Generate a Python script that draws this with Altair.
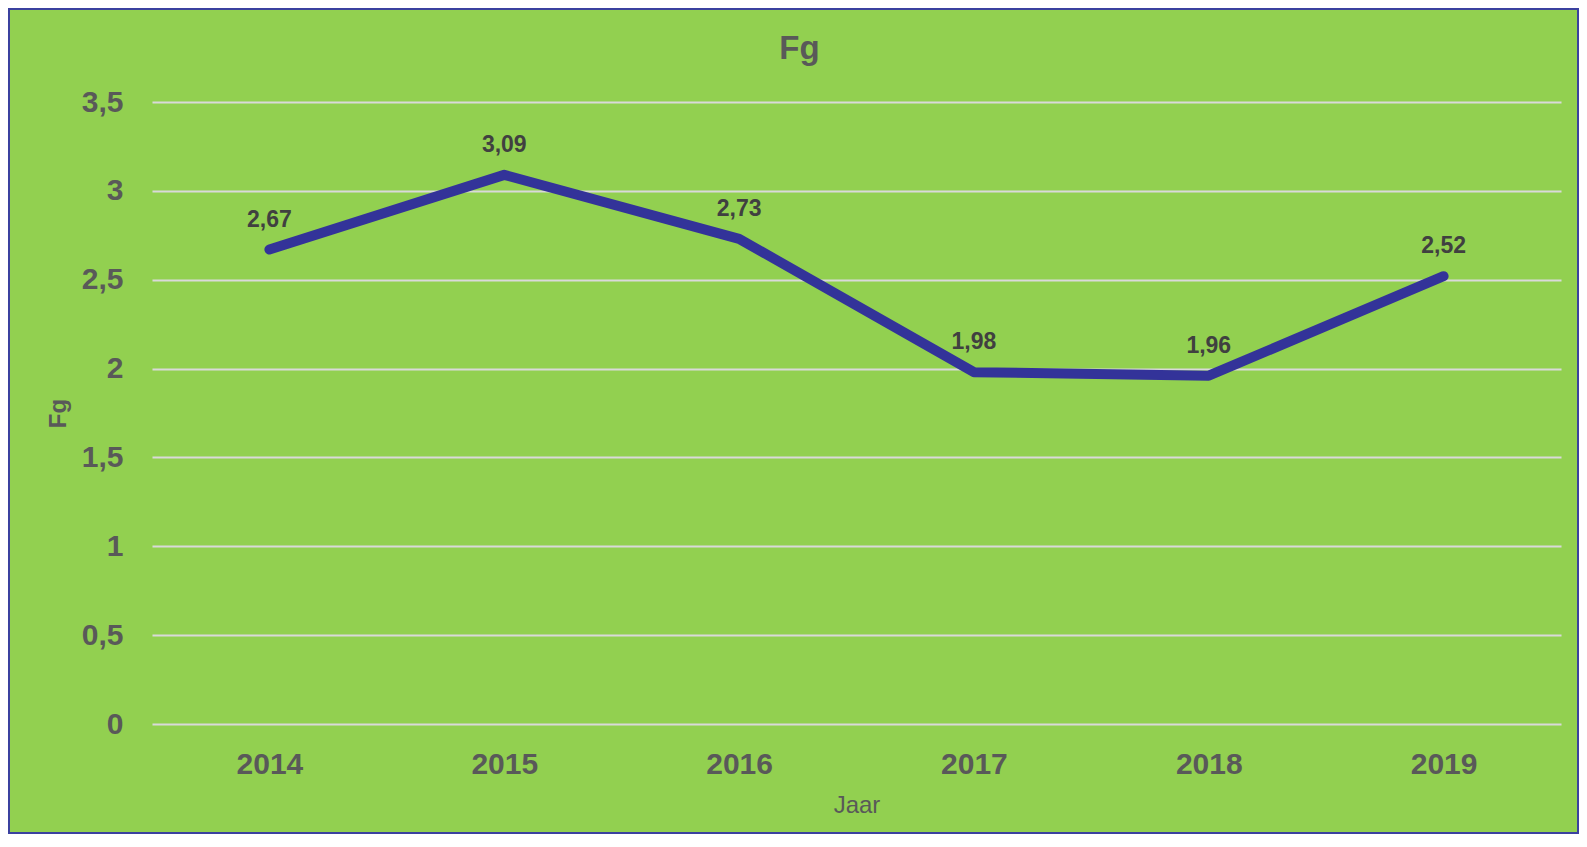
import altair as alt
import pandas as pd

years = ["2014", "2015", "2016", "2017", "2018", "2019"]
fg_values = [2.67, 3.09, 2.73, 1.98, 1.96, 2.52]
y_ticks = [0, 0.5, 1, 1.5, 2, 2.5, 3, 3.5]

df = pd.DataFrame({"Jaar": years, "Fg": fg_values})

FONT = "Liberation Sans"
GREEN = "#92D050"
GRAY = "#595959"
LINE = "#333399"

PW, PH = 1409, 622
PAD = {"left": 144, "top": 94, "right": 18, "bottom": 110}

x_enc = alt.X(
    "Jaar:N",
    sort=years,
    scale=alt.Scale(type="point", padding=0.5),
    axis=alt.Axis(
        title="Jaar",
        labelAngle=0,
        labelFont=FONT,
        labelFontSize=30,
        labelFontWeight="bold",
        labelColor=GRAY,
        labelPadding=25,
        ticks=False,
        tickSize=0,
        domain=False,
        grid=False,
        titleFont=FONT,
        titleFontSize=24,
        titleFontWeight="normal",
        titleColor=GRAY,
        titlePadding=14,
    ),
)

y_enc = alt.Y(
    "Fg:Q",
    scale=alt.Scale(domain=[0, 3.5], nice=False, zero=True),
    axis=alt.Axis(
        title="Fg",
        values=y_ticks,
        labelExpr="replace(toString(datum.value), '.', ',')",
        labelFont=FONT,
        labelFontSize=30,
        labelFontWeight="bold",
        labelColor=GRAY,
        labelPadding=29,
        ticks=False,
        tickSize=0,
        domain=False,
        grid=True,
        gridColor="#D9D9D9",
        gridWidth=2,
        titleFont=FONT,
        titleFontSize=24,
        titleFontWeight="bold",
        titleColor=GRAY,
        titlePadding=11,
    ),
)

base = alt.Chart(df)

line = base.mark_line(
    color=LINE, strokeWidth=10, strokeCap="round", strokeJoin="round"
).encode(x=x_enc, y=y_enc)

labels = base.transform_calculate(
    lbl="replace(format(datum.Fg, '.2f'), '.', ',')"
).mark_text(
    font=FONT, fontSize=23, fontWeight="bold", color="#404040",
    baseline="alphabetic", align="center", dy=-23
).encode(x=alt.X("Jaar:N", sort=years), y=alt.Y("Fg:Q"), text="lbl:N")

border = base.mark_rect(
    filled=False, fill=None, stroke="#3B40A0", strokeWidth=1.5
).encode(
    x=alt.value(-PAD["left"] + 0.75),
    x2=alt.value(PW + PAD["right"] - 0.75),
    y=alt.value(-PAD["top"] + 0.75),
    y2=alt.value(PH + PAD["bottom"] - 0.75),
)

chart = alt.layer(line, labels, border).properties(
    width=PW,
    height=PH,
    padding=PAD,
    autosize=alt.AutoSizeParams(type="none"),
    background=GREEN,
    title=alt.TitleParams(
        text="Fg",
        font=FONT,
        fontSize=33,
        fontWeight="bold",
        color=GRAY,
        anchor="middle",
        dx=-57,
        offset=0,
        dy=58,
    ),
).configure_view(stroke=None)

chart.save("out.html", embed_options={"renderer": "svg", "actions": False})
